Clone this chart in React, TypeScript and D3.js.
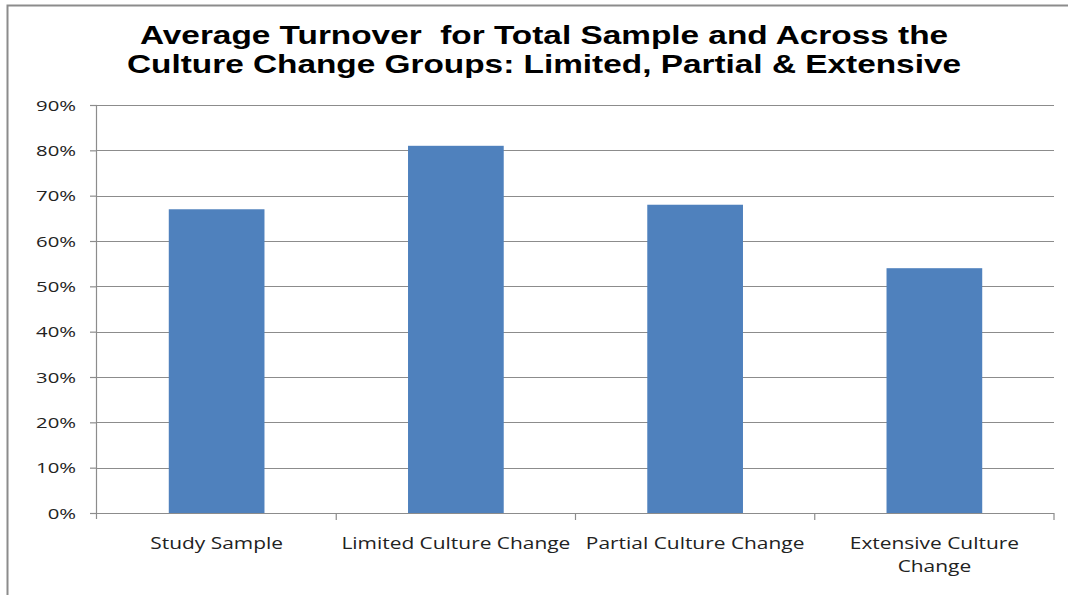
import React, { useEffect, useRef } from 'react'
import * as d3 from 'd3'

const categories = [['Study Sample'], ['Limited Culture Change'], ['Partial Culture Change'], ['Extensive Culture', 'Change']]
const values = [0.67, 0.81, 0.68, 0.54]
const yTicks = [0, 0.1, 0.2, 0.3, 0.4, 0.5, 0.6, 0.7, 0.8, 0.9]
const titleLines = ['Average Turnover  for Total Sample and Across the', 'Culture Change Groups: Limited, Partial & Extensive']

const App = () => {
    const ref = useRef<SVGSVGElement>(null)

    useEffect(() => {
        const width = 1068
        const height = 595
        const margin = { top: 105, bottom: 82, right: 14, left: 97 }
        const innerWidth = width - margin.left - margin.right
        const innerHeight = height - margin.top - margin.bottom
        // the source image is stretched sideways, so text gets scaled on x
        const titleStretch = 1.335
        const yLabelStretch = 1.45
        const xLabelStretch = 1.23

        const svg = d3.select(ref.current)
        svg.selectAll('*').remove()

        // chart border (left + top only visible)
        svg.append('path')
            .attr('d', `M7.5,${height} V5.5 H${width}`)
            .attr('fill', 'none')
            .attr('stroke', '#8c8c8c')
            .attr('stroke-width', 2)

        svg.append('g')
            .attr('transform', `translate(544,0) scale(${titleStretch},1)`)
            .selectAll('text').data(titleLines).enter()
            .append('text')
            .attr('x', 0)
            .attr('y', (d, i) => 44.5 + i * 28.5)
            .attr('text-anchor', 'middle')
            .style('font-family', '"Liberation Sans", Arial, sans-serif')
            .style('font-weight', 'bold')
            .style('font-size', '25px')
            .style('white-space', 'pre')
            .text(d => d)

        const keys = categories.map(c => c.join(' '))

        const xScale = d3.scaleBand()
            .domain(keys)
            .range([0, innerWidth])

        const yScale = d3.scaleLinear()
            .domain([0, 0.9])
            .range([innerHeight, 0])

        const g = svg.append('g')
            .attr('transform', `translate(${margin.left},${margin.top})`)

        // gridlines
        g.selectAll('.grid').data(yTicks.slice(1)).enter()
            .append('line')
            .attr('x1', 0)
            .attr('x2', innerWidth)
            .attr('y1', d => Math.round(yScale(d)) + 0.5)
            .attr('y2', d => Math.round(yScale(d)) + 0.5)
            .attr('stroke', '#8c8c8c')
            .attr('stroke-width', 1.2)

        // bars (excel gap width 150%)
        const barW = xScale.bandwidth() * 0.4
        g.selectAll('rect').data(values)
            .enter().append('rect')
            .attr('x', (d, i) => xScale(keys[i])! + (xScale.bandwidth() - barW) / 2)
            .attr('y', d => yScale(d))
            .attr('width', barW)
            .attr('height', d => innerHeight - yScale(d))
            .attr('fill', '#4f81bd')

        // y axis
        const yAxis = g.append('g')
            .call(d3.axisLeft(yScale).tickValues(yTicks).tickFormat(d3.format('.0%')).tickSize(7))
        yAxis.select('.domain').remove()
        yAxis.selectAll('line').attr('stroke', '#8c8c8c').attr('stroke-width', 1.2)
        yAxis.append('line')
            .attr('x1', -0.5).attr('x2', -0.5)
            .attr('y1', 0).attr('y2', innerHeight + 6)
            .attr('stroke', '#8c8c8c').attr('stroke-width', 1.2)
        yAxis.selectAll('text')
            .attr('x', -21 / yLabelStretch)
            .attr('dy', '0.36em')
            .attr('transform', `scale(${yLabelStretch},1)`)
            .attr('fill', '#222')
            .style('font-family', '"Open Sans", sans-serif')
            .style('font-size', '14px')

        // x axis
        const xAxis = g.append('g')
            .attr('transform', `translate(0,${innerHeight})`)
        xAxis.append('line')
            .attr('x1', 0).attr('x2', innerWidth)
            .attr('y1', 0.5).attr('y2', 0.5)
            .attr('stroke', '#8c8c8c').attr('stroke-width', 1.2)
        xAxis.selectAll('.tick').data(keys).enter()
            .append('line')
            .attr('x1', d => xScale(d)! + xScale.bandwidth())
            .attr('x2', d => xScale(d)! + xScale.bandwidth())
            .attr('y1', 0).attr('y2', 7)
            .attr('stroke', '#8c8c8c').attr('stroke-width', 1.2)

        xAxis.selectAll('.label').data(categories).enter()
            .append('text')
            .attr('text-anchor', 'middle')
            .attr('transform', (d, i) => `translate(${xScale(keys[i])! + xScale.bandwidth() / 2},0) scale(${xLabelStretch},1)`)
            .attr('fill', '#222')
            .style('font-family', '"Open Sans", sans-serif')
            .style('font-size', '17px')
            .each(function (lines) {
                const t = d3.select(this)
                lines.forEach((line, j) => {
                    t.append('tspan')
                        .attr('x', 0)
                        .attr('y', 36 + j * 23)
                        .text(line)
                })
            })
    }, [])

    return (
        <svg ref={ref} width={1068} height={595} style={{ position: 'absolute', left: 0, top: 0, background: '#fff' }}></svg>
    )
}

export default App
